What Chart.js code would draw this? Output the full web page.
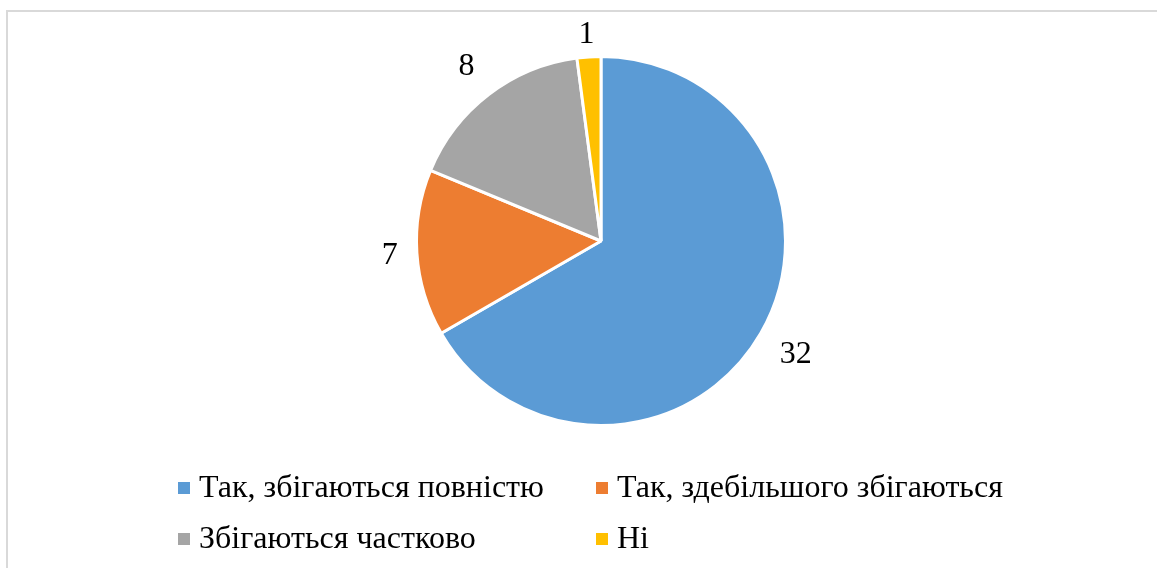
<!DOCTYPE html>
<html>
<head>
<meta charset="utf-8">
<script src="https://cdn.jsdelivr.net/npm/chart.js@4/dist/chart.umd.min.js"></script>
<style>
html,body{margin:0;padding:0;width:1157px;height:568px;overflow:hidden;background:#fff;}
#wrap{position:absolute;left:0;top:0;width:1157px;height:568px;}
</style>
</head>
<body>
<div id="wrap"><canvas id="c" width="1157" height="568"></canvas></div>
<script>
const categories = ["Так, збігаються повністю", "Так, здебільшого збігаються", "Збігаються частково", "Ні"];
const values = [32, 7, 8, 1];
const colors = ["#5B9BD5", "#ED7D31", "#A5A5A5", "#FFC000"];

const FONT = "'Liberation Serif', 'Times New Roman', serif";

const frame = {
  id: 'frame',
  beforeDraw(chart) {
    const ctx = chart.ctx;
    ctx.save();
    ctx.fillStyle = "#d9d9d9";
    ctx.fillRect(6, 10, chart.width - 6, 2);
    ctx.fillRect(6, 10, 2, chart.height - 10);
    ctx.restore();
  }
};

const outLabels = {
  id: 'outLabels',
  afterDatasetsDraw(chart) {
    const ctx = chart.ctx;
    const meta = chart.getDatasetMeta(0);
    ctx.save();
    ctx.font = "32px " + FONT;
    ctx.fillStyle = "#000";
    ctx.textAlign = "center";
    ctx.textBaseline = "middle";
    meta.data.forEach((arc, i) => {
      const p = arc.getProps(['x','y','startAngle','endAngle','outerRadius'], true);
      const mid = (p.startAngle + p.endAngle) / 2;
      const txt = String(chart.data.datasets[0].data[i]);
      const w = ctx.measureText(txt).width;
      const h = 34;
      const c = Math.cos(mid), s = Math.sin(mid);
      const proj = Math.abs(c) * w / 2 + Math.abs(s) * h / 2;
      const d = p.outerRadius + 18 + proj;
      let x = p.x + c * d;
      let y = p.y + s * d;
      y = Math.max(y, 34);
      ctx.fillText(txt, x, y + 1);
    });
    ctx.restore();
  }
};

const gridLegend = {
  id: 'gridLegend',
  afterDraw(chart) {
    const ctx = chart.ctx;
    const labels = chart.data.labels;
    const bg = chart.data.datasets[0].backgroundColor;
    const colX = [178, 596];
    const rowY = [488, 539];
    ctx.save();
    ctx.font = "32px " + FONT;
    ctx.textBaseline = "middle";
    ctx.textAlign = "left";
    labels.forEach((lab, i) => {
      const cx = colX[i % 2], cy = rowY[Math.floor(i / 2)];
      ctx.fillStyle = bg[i];
      ctx.fillRect(cx, cy - 6, 12, 12);
      ctx.fillStyle = "#000";
      ctx.fillText(lab, cx + 21, cy + 1);
    });
    ctx.restore();
  }
};

function draw() {
  new Chart(document.getElementById('c'), {
    type: 'pie',
    data: {
      labels: categories,
      datasets: [{
        data: values,
        backgroundColor: colors,
        borderColor: '#ffffff',
        borderWidth: 3
      }]
    },
    options: {
      responsive: false,
      animation: false,
      layout: { padding: { top: 55, bottom: 141, left: 415, right: 370 } },
      plugins: {
        legend: { display: false },
        tooltip: { enabled: false }
      }
    },
    plugins: [frame, outLabels, gridLegend]
  });
}
if (document.fonts && document.fonts.load) {
  document.fonts.load("32px 'Liberation Serif'", "Так 0123").then(draw, draw);
} else { draw(); }
</script>
</body>
</html>
